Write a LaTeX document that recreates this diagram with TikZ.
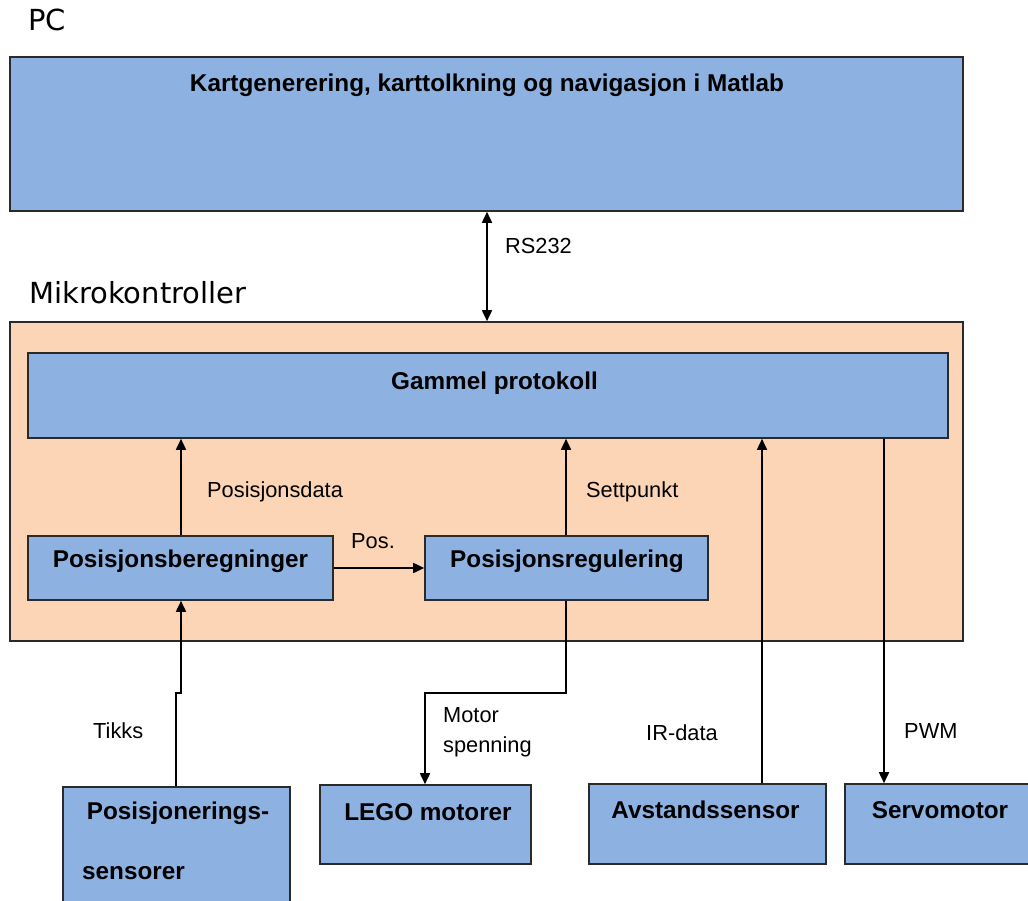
\documentclass[tikz,border=0pt]{standalone}
\usepackage{fontspec}
\setmainfont{Liberation Sans}
\newfontfamily\headfont{DejaVu Sans}
\usetikzlibrary{arrows.meta}

\definecolor{boxblue}{HTML}{8DB2E1}
\definecolor{mcorange}{HTML}{FBD5B5}
\definecolor{edge}{HTML}{2A2A2A}

\tikzset{
  bluebox/.style={draw=edge, line width=1.6pt, fill=boxblue, inner sep=0pt},
  orangebox/.style={draw=edge, line width=1.6pt, fill=mcorange, inner sep=0pt},
  boxtext/.style={inner sep=0pt, anchor=base, font=\fontsize{24.3}{29}\selectfont\bfseries},
  sigtext/.style={inner sep=0pt, anchor=base west, font=\fontsize{21.8}{26}\selectfont},
  headtext/.style={inner sep=0pt, anchor=base west, font=\headfont\fontsize{29}{34}\selectfont},
  wire/.style={line width=1.7pt, draw=black},
  arr/.style={wire, -{Triangle[length=11pt,width=10pt]}},
  biarr/.style={wire, {Triangle[length=11pt,width=10pt]}-{Triangle[length=11pt,width=10pt]}},
}

\begin{document}
\begin{tikzpicture}[x=1pt, y=-1pt]
\useasboundingbox (0,0) rectangle (1028,901);
\clip (0,0) rectangle (1028,901);

% PC part
\node[headtext] (pclabel) at (28,31) {PC};
\node[bluebox, minimum width=953pt, minimum height=154pt] (pc) at (486.5,134) {};
\node[boxtext] (pctext) at (487,92) {Kartgenerering, karttolkning og navigasjon i Matlab};

% microcontroller part
\node[headtext] (mclabel) at (29,304) {Mikrokontroller};
\node[orangebox, minimum width=953pt, minimum height=319pt] (mc) at (486.5,481.5) {};
\node[bluebox, minimum width=920pt, minimum height=85pt] (gp) at (488,395.5) {};
\node[boxtext] (gptext) at (494.5,389) {Gammel protokoll};
\node[bluebox, minimum width=305pt, minimum height=64pt] (pb) at (180.5,568) {};
\node[boxtext] (pbtext) at (180.5,567) {Posisjonsberegninger};
\node[bluebox, minimum width=283pt, minimum height=64pt] (pr) at (566.5,568) {};
\node[boxtext] (prtext) at (567,567) {Posisjonsregulering};

% external units
\node[bluebox, minimum width=227pt, minimum height=128pt] (ps) at (176.5,851) {};
\node[boxtext] (pstext1) at (178,819) {Posisjonerings-};
\node[boxtext, anchor=base west] (pstext2) at (82,879) {sensorer};
\node[bluebox, minimum width=211pt, minimum height=79pt] (lego) at (425.5,824.5) {};
\node[boxtext] (legotext) at (428,820) {LEGO motorer};
\node[bluebox, minimum width=237pt, minimum height=80pt] (av) at (707.5,824) {};
\node[boxtext] (avtext) at (705.5,818) {Avstandssensor};
\node[bluebox, minimum width=195pt, minimum height=80pt] (servo) at (942.5,824) {};
\node[boxtext] (servotext) at (940,818) {Servomotor};

% routing columns
\coordinate (xrs) at (487,0);
\coordinate (xpd) at (181,0);
\coordinate (xsp) at (566,0);
\coordinate (xir) at (762,0);
\coordinate (xpwm) at (884,0);
\coordinate (tikbend) at (181,693);
\coordinate (tiklow) at (176,693);
\coordinate (motbend) at (566,693);
\coordinate (motlow) at (425,693);

% connectors
\draw[biarr] (pc.south -| xrs) -- (mc.north -| xrs);
\draw[arr] (pb.north -| xpd) -- (gp.south -| xpd);
\draw[arr] (pr.north -| xsp) -- (gp.south -| xsp);
\draw[arr] (pb.east) -- (pr.west);
\draw[arr] (ps.north -| tiklow) -- (tiklow) -- (tikbend) -- (pb.south -| tikbend);
\draw[arr] (pr.south -| motbend) -- (motbend) -- (motlow) -- (lego.north -| motlow);
\draw[arr] (av.north -| xir) -- (gp.south -| xir);
\draw[arr] (gp.south -| xpwm) -- (servo.north -| xpwm);

% signal labels
\node[sigtext] (lrs) at (505,254) {RS232};
\node[sigtext] (lpd) at (207,497) {Posisjonsdata};
\node[sigtext] (lsp) at (586,497) {Settpunkt};
\node[sigtext] (lpos) at (351,548) {Pos.};
\node[sigtext] (ltik) at (93,738) {Tikks};
\node[sigtext] (lmot1) at (443,722) {Motor};
\node[sigtext] (lmot2) at (443,752) {spenning};
\node[sigtext] (lir) at (646,740) {IR-data};
\node[sigtext] (lpwm) at (904,738) {PWM};
\end{tikzpicture}
\end{document}
